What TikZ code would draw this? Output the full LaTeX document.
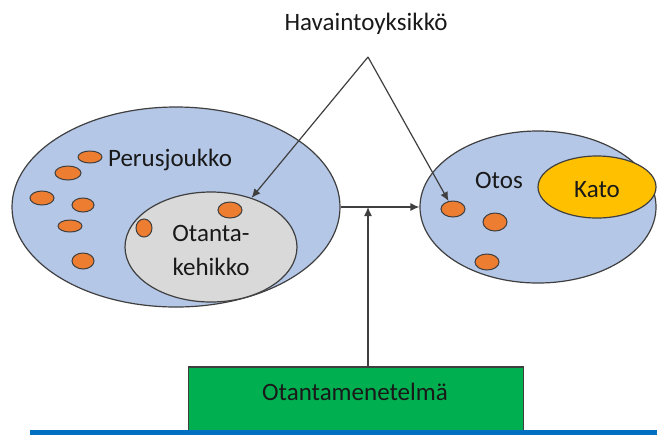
\documentclass[tikz,border=0pt]{standalone}
\usepackage{fontspec}
\setmainfont{Carlito}
\usetikzlibrary{shapes.geometric,arrows.meta}
\definecolor{joukkosin}{HTML}{B4C7E7}
\definecolor{kehysharmaa}{HTML}{D9D9D9}
\definecolor{pisteor}{HTML}{ED7D31}
\definecolor{katokelt}{HTML}{FFC000}
\definecolor{menvihr}{HTML}{00B050}
\definecolor{pohjasin}{HTML}{0070C0}
\definecolor{viiva}{HTML}{3F3F3F}
\tikzset{
  joukko/.style={ellipse, draw=viiva, line width=0.6pt, inner sep=0pt},
  piste/.style={ellipse, draw=viiva, line width=0.5pt, fill=pisteor, inner sep=0pt},
  nuoli/.style={-{Latex[length=4.5pt,width=4pt]}, line width=0.6pt, draw=viiva},
  teksti/.style={font=\fontsize{12.5}{15}\selectfont, text=black!90}
}
\begin{document}
\begin{tikzpicture}[x=0.5pt, y=-0.5pt]
    \useasboundingbox (0,0) rectangle (657,435);
    % joukot
    \node[joukko, fill=joukkosin, minimum width=164pt, minimum height=100pt]
      (perus) at (176,207) {};
    \node[joukko, fill=kehysharmaa, minimum width=86pt, minimum height=55pt]
      (kehikko) at (211,247) {};
    \node[joukko, fill=joukkosin, minimum width=118pt, minimum height=76pt]
      (otos) at (538,207) {};
    \node[joukko, fill=katokelt, minimum width=59pt, minimum height=31pt]
      (kato) at (597,187) {};
    % havaintoyksiköt
    \foreach \n/\x/\y/\rx/\ry in {p1/90/157/12/6, p2/68/173/13/7, p3/42/198/12/7,
        p4/83/205/11/7, p5/70/226/12/6, p6/83/261/11/8, p7/230/210/12/8,
        p8/144/228/8/9, o1/453/209/12/8, o2/495/222/12/9, o3/487/262/12/8} {
      \node[piste, minimum width=\rx pt, minimum height=\ry pt] (\n) at (\x,\y) {};
    }
    % tekstit
    \node[teksti] (perusteksti) at (170,160) {Perusjoukko};
    \node[teksti, align=center, text height=9pt, text depth=2pt] (kehikkoteksti) at (211,268)
      {Otanta-\\[2pt]kehikko};
    \node[teksti] (otosteksti) at (499,180) {Otos};
    \node[teksti] (katoteksti) at (597,190) {Kato};
    \node[teksti] (havainto) at (366,24) {Havaintoyksikkö};
    % menetelmä
    \node[draw=viiva, line width=0.6pt, fill=menvihr, minimum width=167.5pt,
      minimum height=32pt, inner sep=0pt] (menetelma) at (356,399) {};
    \node[teksti] (menteksti) at (355,392) {Otantamenetelmä};
    \fill[pohjasin] (30,430) rectangle (657,435);
    % yhteydet
    \coordinate (karki) at (368,57);
    \coordinate (liitos) at (368,207);
    \draw[nuoli] (karki) -- (kehikko);
    \draw[nuoli] (karki) -- (o1);
    \draw[nuoli] (perus.east) -- (otos.west);
    \draw[nuoli] (menetelma.north -| liitos) -- (liitos);
  \end{tikzpicture}
\end{document}
